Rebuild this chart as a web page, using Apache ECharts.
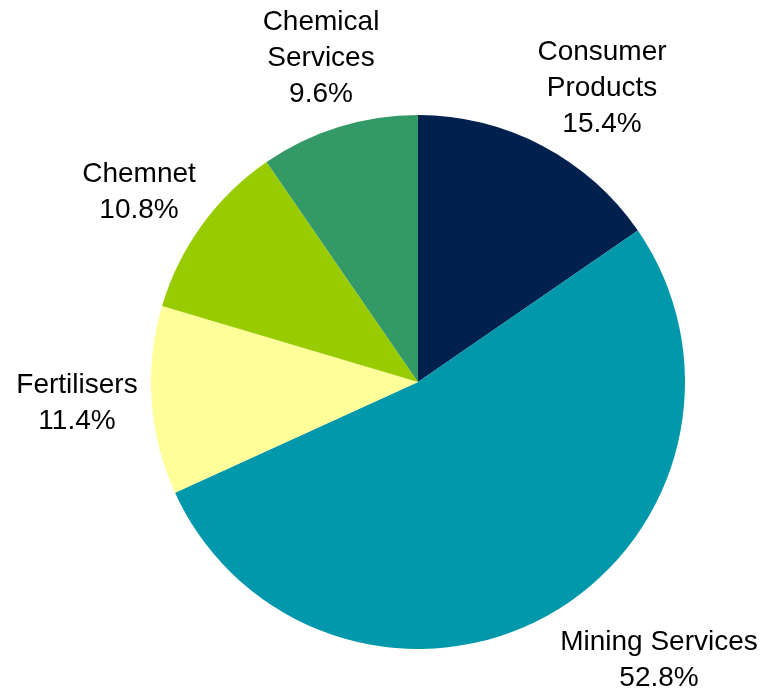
<!DOCTYPE html>
<html>
<head>
<meta charset="utf-8">
<style>
  html, body { margin: 0; padding: 0; background: #ffffff; }
  #chart { width: 763px; height: 691px; }
</style>
<script src="https://cdn.jsdelivr.net/npm/echarts@6/dist/echarts.min.js"></script>
</head>
<body>
<div id="chart"></div>
<script>
// Revenue share by business segment (%)
const segments = ['Consumer\nProducts', 'Mining Services', 'Fertilisers', 'Chemnet', 'Chemical\nServices'];
const shares = [15.4, 52.8, 11.4, 10.8, 9.6];
const colors = ['#00204E', '#0098AA', '#FFFF99', '#99CC00', '#339966'];

// Label anchor points (centre of each text block)
const labelSpots = [[602, 88], [659, 660], [77, 403], [139, 192], [321, 58]];

const chart = echarts.init(document.getElementById('chart'), null, { renderer: 'canvas' });

chart.setOption({
  animation: false,
  series: [{
    type: 'pie',
    center: [418, 382],
    radius: 267,
    startAngle: 90,
    clockwise: true,
    avoidLabelOverlap: false,
    data: segments.map((name, i) => ({
      name: name,
      value: shares[i],
      itemStyle: { color: colors[i] }
    })),
    itemStyle: { borderWidth: 0 },
    emphasis: { disabled: true },
    label: {
      show: true,
      position: 'outside',
      formatter: p => p.name + '\n' + p.value.toFixed(1) + '%',
      fontFamily: 'Liberation Sans, Arial, sans-serif',
      fontSize: 28,
      lineHeight: 36,
      color: '#000000',
      align: 'center'
    },
    labelLine: { show: false },
    labelLayout: params => ({
      x: labelSpots[params.dataIndex][0],
      y: labelSpots[params.dataIndex][1],
      align: 'center',
      verticalAlign: 'middle'
    })
  }]
});
</script>
</body>
</html>
